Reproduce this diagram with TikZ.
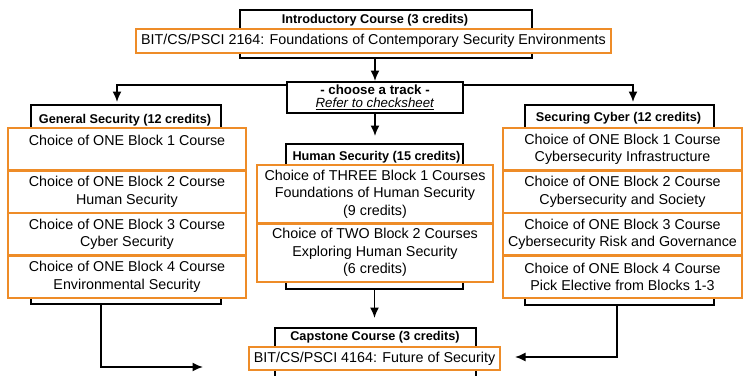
\documentclass[tikz,border=0pt]{standalone}
\usepackage{fontspec}
\setmainfont{Liberation Sans}
\usetikzlibrary{arrows.meta}
\definecolor{trackorange}{RGB}{238,140,40}

\begin{document}
\begin{tikzpicture}[x=1pt,y=-1pt,
        frame/.style={draw=black, line width=1.8pt, fill=white, inner sep=0pt},
        course/.style={draw=trackorange, line width=2.6pt, fill=white, inner sep=0pt, align=center,
            font=\fontsize{14.3}{17.5}\selectfont},
        heading/.style={inner sep=0pt, font=\fontsize{12.7}{15}\selectfont\bfseries},
        flow/.style={line width=1.8pt, -{Latex[length=10.5pt,width=9pt]}}]
        \useasboundingbox (0,0) rectangle (743,375);

        % Вводный курс
        \node[frame, minimum width=292, minimum height=48] (intro) at (386,34) {};
        \node[heading] (introT) at (375,20) {Introductory Course (3 credits)};
        \node[course, minimum width=475, minimum height=24] (introC) at (373.5,41)
            {BIT/CS/PSCI 2164: Foundations of Contemporary Security Environments};

        % Выбор трека
        \node[frame, minimum width=176, minimum height=31, align=center,
            font=\fontsize{13.3}{13}\selectfont] (choose) at (375,97.5)
            {\textbf{- choose a track -}\\ \underline{\textit{Refer to checksheet}}};

        % General Security
        \node[frame, minimum width=190, minimum height=199] (gen) at (126,204.5) {};
        \node[heading] (genT) at (125,120) {General Security (12 credits)};
        \node[course, minimum width=238, minimum height=42.5] (gen1) at (127,149.25) {Choice of ONE Block 1 Course\\ \mbox{}};
        \node[course, minimum width=238, minimum height=42.5] (gen2) at (127,191.75) {Choice of ONE Block 2 Course\\ Human Security};
        \node[course, minimum width=238, minimum height=42.5] (gen3) at (127,234.25) {Choice of ONE Block 3 Course\\ Cyber Security};
        \node[course, minimum width=238, minimum height=42.5] (gen4) at (127,276.75) {Choice of ONE Block 4 Course\\ Environmental Security};

        % Human Security
        \node[frame, minimum width=177, minimum height=145] (hum) at (374.5,216.5) {};
        \node[heading] (humT) at (376.5,157) {Human Security (15 credits)};
        \node[course, minimum width=236, minimum height=58.5] (hum1) at (375,194.25)
            {Choice of THREE Block 1 Courses\\ Foundations of Human Security\\ (9 credits)};
        \node[course, minimum width=236, minimum height=58.5] (hum2) at (375,252.75)
            {Choice of TWO Block 2 Courses\\ Exploring Human Security\\ (6 credits)};

        % Securing Cyber
        \node[frame, minimum width=189, minimum height=200] (cyb) at (619.5,205) {};
        \node[heading] (cybT) at (618.5,118) {Securing Cyber (12 credits)};
        \node[course, minimum width=239, minimum height=42.5] (cyb1) at (622.5,149.25) {Choice of ONE Block 1 Course\\ Cybersecurity Infrastructure};
        \node[course, minimum width=239, minimum height=42.5] (cyb2) at (622.5,191.75) {Choice of ONE Block 2 Course\\ Cybersecurity and Society};
        \node[course, minimum width=239, minimum height=42.5] (cyb3) at (622.5,234.25) {Choice of ONE Block 3 Course\\ Cybersecurity Risk and Governance};
        \node[course, minimum width=239, minimum height=42.5] (cyb4) at (622.5,276.75) {Choice of ONE Block 4 Course\\ Pick Elective from Blocks 1-3};

        % Итоговый курс
        \node[frame, minimum width=201, minimum height=60] (cap) at (375.5,358) {};
        \node[heading] (capT) at (375,337) {Capstone Course (3 credits)};
        \node[course, minimum width=251, minimum height=23] (capC) at (374.5,358.5)
            {BIT/CS/PSCI 4164: Future of Security};

        % Стрелки
        \coordinate (splitL) at (117,85);
        \coordinate (splitR) at (633,85);
        \coordinate (genOut) at (101,367);
        \coordinate (capL) at (203,367);
        \coordinate (cybOut) at (617,357);
        \coordinate (capR) at (515,357);

        \draw[flow] (choose.north |- intro.south) -- (choose.north);
        \draw[flow, shorten >=2pt] (choose.west |- splitL) -- (splitL) -- (splitL |- gen.north);
        \draw[flow, shorten >=2pt] (choose.east |- splitR) -- (splitR) -- (splitR |- cyb.north);
        \draw[flow, shorten >=7pt] (choose.south) -- (choose.south |- hum.north);
        \draw[flow, shorten >=9pt] (hum.south) -- (hum.south |- cap.north);
        \draw[flow] (genOut |- gen.south) -- (genOut) -- (capL);
        \draw[flow] (cybOut |- cyb.south) -- (cybOut) -- (capR);
    \end{tikzpicture}
\end{document}
